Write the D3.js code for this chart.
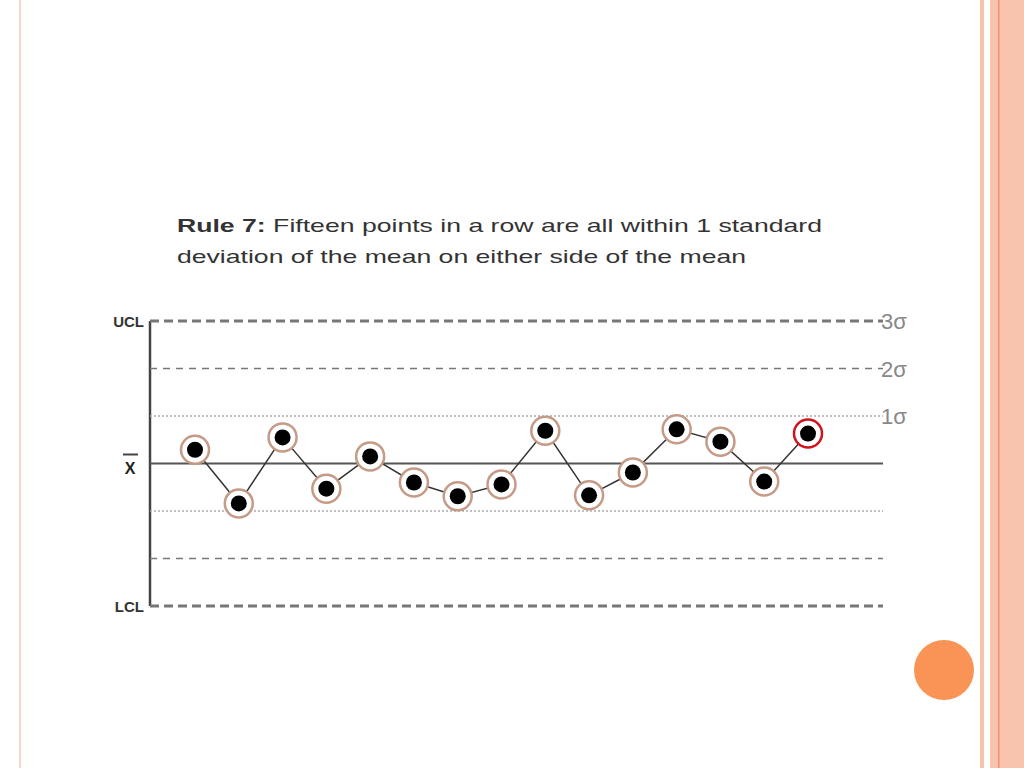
<!DOCTYPE html>
<html><head><meta charset="utf-8">
<script src="https://cdn.jsdelivr.net/npm/d3@7"></script>
<style>body{margin:0;background:#fff}svg{display:block;font-family:"Liberation Sans",Arial,sans-serif}</style>
</head><body><svg id="c" width="1024" height="768"></svg>
<script>
// values in sigma units
const points = [0.29, -0.84, 0.55, -0.53, 0.15, -0.40, -0.69, -0.44, 0.69, -0.67, -0.19, 0.72, 0.46, -0.38, 0.63];
const limits = [
  {v: 3, dash: '9,5', w: 3, label: '3σ', side: 'UCL'},
  {v: 2, dash: '7,6', w: 1.6, label: '2σ'},
  {v: 1, dash: '2,2', w: 1.5, label: '1σ'},
  {v: -1, dash: '2,2', w: 1.5},
  {v: -2, dash: '7,6', w: 1.6},
  {v: -3, dash: '9,5', w: 3, side: 'LCL'}
];
const svg = d3.select('#c');
// slide decoration
svg.append('line').attr('x1', 20).attr('x2', 20).attr('y1', 0).attr('y2', 768).attr('stroke', '#f9c9b5').attr('stroke-width', 1.5);
svg.append('rect').attr('x', 980).attr('y', 0).attr('width', 4).attr('height', 768).attr('fill', '#f9c4ae');
svg.append('rect').attr('x', 990).attr('y', 0).attr('width', 34).attr('height', 768).attr('fill', '#f9c4ae');
svg.append('rect').attr('x', 998).attr('y', 0).attr('width', 1.5).attr('height', 768).attr('fill', '#f0926a');
svg.append('circle').attr('cx', 944).attr('cy', 670).attr('r', 30).attr('fill', '#fa9456');

const title = svg.append('text').attr('x', 177).attr('y', 232).attr('font-size', 19).attr('fill', '#333')
  .attr('textLength', 645).attr('lengthAdjust', 'spacingAndGlyphs');
title.append('tspan').attr('font-weight', 'bold').text('Rule 7: ');
title.append('tspan').text('Fifteen points in a row are all within 1 standard');
svg.append('text').attr('x', 177).attr('y', 263).attr('font-size', 19).attr('fill', '#333')
  .attr('textLength', 569).attr('lengthAdjust', 'spacingAndGlyphs')
  .text('deviation of the mean on either side of the mean');

const y = d3.scaleLinear().domain([-3, 3]).range([606, 321]);
const x = d3.scaleLinear().domain([0, points.length - 1]).range([195, 808]);
const x0 = 150, x1 = 883;

svg.append('line').attr('x1', x0).attr('x2', x0).attr('y1', y(3)).attr('y2', y(-3)).attr('stroke', '#444').attr('stroke-width', 2.5);
svg.selectAll('.lim').data(limits).join('line')
  .attr('x1', x0).attr('x2', x1).attr('y1', d => y(d.v)).attr('y2', d => y(d.v))
  .attr('stroke', d => Math.abs(d.v) === 1 ? '#aaa' : '#777').attr('stroke-width', d => d.w).attr('stroke-dasharray', d => d.dash);
svg.append('line').attr('x1', x0).attr('x2', x1).attr('y1', y(0)).attr('y2', y(0)).attr('stroke', '#555').attr('stroke-width', 2);

svg.selectAll('.sl').data(limits.filter(d => d.label)).join('text')
  .attr('x', 881).attr('y', d => y(d.v) + 8).attr('font-size', 22).attr('fill', '#888').text(d => d.label);
svg.selectAll('.side').data(limits.filter(d => d.side)).join('text')
  .attr('x', 144).attr('y', d => y(d.v) + 6).attr('text-anchor', 'end').attr('font-size', 15).attr('font-weight', 'bold').attr('fill', '#333').text(d => d.side);
svg.append('text').attr('x', 130).attr('y', y(0) + 10).attr('text-anchor', 'middle').attr('font-size', 16).attr('font-weight', 'bold').attr('fill', '#222').text('X');
svg.append('line').attr('x1', 123).attr('x2', 138).attr('y1', y(0) - 9).attr('y2', y(0) - 9).attr('stroke', '#444').attr('stroke-width', 2);

svg.append('path').datum(points)
  .attr('d', d3.line().x((d, i) => x(i)).y(d => y(d)))
  .attr('fill', 'none').attr('stroke', '#333').attr('stroke-width', 1.5);
svg.selectAll('.ring').data(points).join('circle')
  .attr('cx', (d, i) => x(i)).attr('cy', d => y(d)).attr('r', 14)
  .attr('fill', '#fff').attr('stroke', (d, i) => i === points.length - 1 ? '#d0141c' : '#c59a86').attr('stroke-width', 2.5);
svg.selectAll('.dot').data(points).join('circle')
  .attr('cx', (d, i) => x(i)).attr('cy', d => y(d)).attr('r', 8).attr('fill', '#000');
</script></body></html>
